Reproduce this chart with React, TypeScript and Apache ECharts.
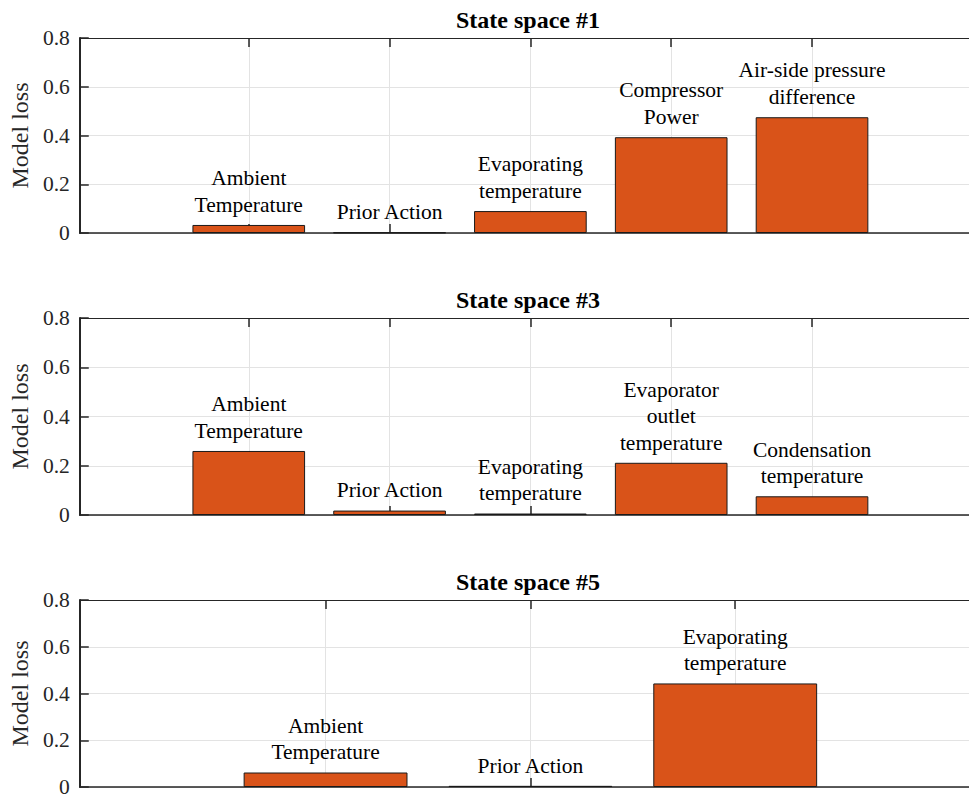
import React, { useEffect, useRef } from "react";
import * as echarts from "echarts";

const FONT = "'Liberation Serif', 'Times New Roman', Times, serif";

const panelTitles = ["State space #1", "State space #3", "State space #5"];

const labels1 = [
  "Ambient\nTemperature",
  "Prior Action",
  "Evaporating\ntemperature",
  "Compressor\nPower",
  "Air-side pressure\ndifference",
];
const values1 = [0.033, 0.002, 0.09, 0.393, 0.475];

const labels3 = [
  "Ambient\nTemperature",
  "Prior Action",
  "Evaporating\ntemperature",
  "Evaporator\noutlet\ntemperature",
  "Condensation\ntemperature",
];
const values3 = [0.26, 0.018, 0.006, 0.212, 0.076];

const labels5 = ["Ambient\nTemperature", "Prior Action", "Evaporating\ntemperature"];
const values5 = [0.062, 0.005, 0.443];

const yTickMin = 0;
const yTickMax = 0.8;
const yTickStep = 0.2;
const yLabel = "Model loss";

const panels = [
  { title: panelTitles[0], labels: labels1, values: values1 },
  { title: panelTitles[1], labels: labels3, values: values3 },
  { title: panelTitles[2], labels: labels5, values: values5 },
];

const gridLayout = [
  { top: 38, height: 195 },
  { top: 318, height: 197 },
  { top: 600, height: 195 },
];

const AXIS_COLOR = "#262626";
const GRID_COLOR = "#e3e3e3";
const BAR_COLOR = "#D95319";

export default function App() {
  const ref = useRef<HTMLDivElement>(null);

  useEffect(() => {
    if (!ref.current) return;
    const chart = echarts.init(ref.current, undefined, { renderer: "svg" });

    const grid: any[] = [];
    const xAxis: any[] = [];
    const yAxis: any[] = [];
    const series: any[] = [];
    const title: any[] = [];

    panels.forEach((p, i) => {
      const n = p.values.length;
      const positions = p.values.map((_, k) => k + 1);
      const lay = gridLayout[i];
      grid.push({ left: 75, width: 906, top: lay.top, height: lay.height });
      title.push({
        text: p.title,
        left: 528,
        top: lay.top - 30,
        textAlign: "center",
        padding: 0,
        textStyle: {
          fontFamily: FONT,
          fontWeight: "bold",
          fontSize: 24,
          color: "#000",
        },
      });
      xAxis.push({
        type: "value",
        gridIndex: i,
        position: "bottom",
        min: -0.2,
        max: n + 1.2,
        axisLine: { show: true, onZero: false, lineStyle: { color: AXIS_COLOR, width: 1.5 } },
        axisTick: {
          show: true,
          inside: true,
          length: 9,
          customValues: positions,
          lineStyle: { color: AXIS_COLOR, width: 1.5 },
        },
        axisLabel: { show: false },
        splitLine: { show: true, lineStyle: { color: GRID_COLOR, width: 1 } },
      });
      xAxis.push({
        type: "value",
        gridIndex: i,
        position: "top",
        min: -0.2,
        max: n + 1.2,
        axisLine: { show: true, onZero: false, lineStyle: { color: AXIS_COLOR, width: 1.2 } },
        axisTick: {
          show: true,
          inside: true,
          length: 9,
          customValues: positions,
          lineStyle: { color: AXIS_COLOR, width: 1.5 },
        },
        axisLabel: { show: false },
        splitLine: { show: false },
      });
      yAxis.push({
        type: "value",
        gridIndex: i,
        position: "left",
        min: yTickMin,
        max: yTickMax,
        interval: yTickStep,
        name: yLabel,
        nameLocation: "middle",
        nameGap: 41,
        nameTextStyle: { fontFamily: FONT, fontSize: 24, color: AXIS_COLOR },
        axisLine: { show: true, onZero: false, lineStyle: { color: AXIS_COLOR, width: 2 } },
        axisTick: { show: true, inside: true, length: 9, lineStyle: { color: AXIS_COLOR, width: 1.5 } },
        axisLabel: {
          fontFamily: FONT,
          fontSize: 21.5,
          color: AXIS_COLOR,
          margin: 10,
          formatter: (v: number) => (v === 0 ? "0" : String(Math.round(v * 10) / 10)),
        },
        splitLine: { show: true, lineStyle: { color: GRID_COLOR, width: 1 } },
      });
      series.push({
        type: "bar",
        xAxisIndex: 2 * i,
        yAxisIndex: i,
        barWidth: "80%",
        data: p.values.map((v, k) => [positions[k], v]),
        itemStyle: { color: BAR_COLOR, borderColor: "#1a1a1a", borderWidth: 1 },
        label: {
          show: true,
          position: "top",
          distance: 7,
          formatter: (params: any) => p.labels[params.dataIndex],
          fontFamily: FONT,
          fontSize: 21.5,
          lineHeight: 26.5,
          color: "#000",
          align: "center",
        },
        emphasis: { disabled: true },
        silent: true,
      });
    });

    chart.setOption({
      animation: false,
      backgroundColor: "#fff",
      textStyle: { fontFamily: FONT },
      title,
      grid,
      xAxis,
      yAxis,
      series,
    });

    return () => chart.dispose();
  }, []);

  return (
    <div
      style={{
        position: "absolute",
        left: 0,
        top: 0,
        width: 969,
        height: 798,
        overflow: "hidden",
        background: "#fff",
      }}
    >
      <div ref={ref} style={{ width: 990, height: 798 }} />
    </div>
  );
}
